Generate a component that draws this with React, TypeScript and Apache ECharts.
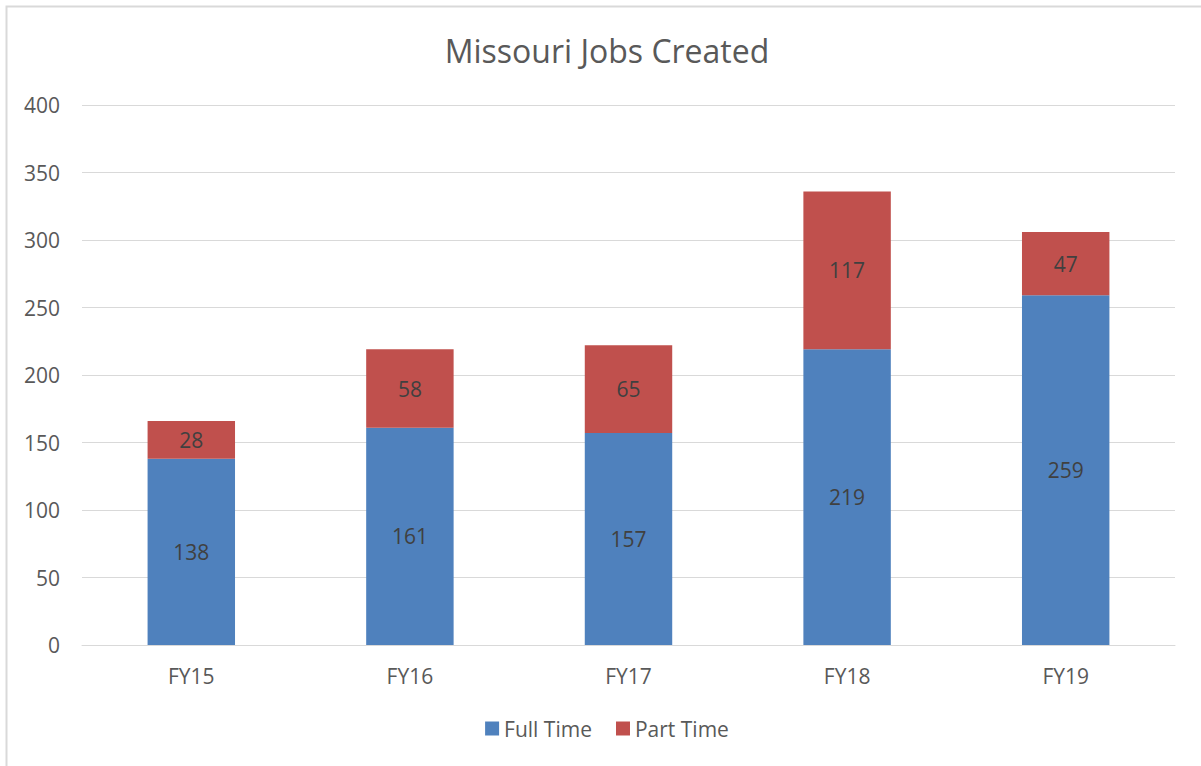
import React, { useEffect, useRef } from "react";
import * as echarts from "echarts";

const categories = ["FY15", "FY16", "FY17", "FY18", "FY19"];
const fullTime = [138, 161, 157, 219, 259];
const partTime = [28, 58, 65, 117, 47];
const yTicks = { min: 0, max: 400, interval: 50 };

const W = 1214;
const H = 766;

export default function App() {
  const ref = useRef<HTMLDivElement>(null);
  useEffect(() => {
    const chart = echarts.init(ref.current!, null, { renderer: "svg" });
    const font = "'Open Sans', 'Noto Sans', sans-serif";
    chart.setOption({
      animation: false,
      backgroundColor: "#ffffff",
      textStyle: { fontFamily: font },
      title: {
        text: "Missouri Jobs Created",
        left: "center",
        top: 29,
        textStyle: { fontSize: 32, fontWeight: "normal", color: "#595959", fontFamily: font },
      },
      graphic: [
        {
          type: "rect",
          shape: { x: 6.5, y: 6.5, width: 1300, height: 900 },
          style: { fill: "none", stroke: "#d9d9d9", lineWidth: 2 },
          silent: true,
        },
      ],
      legend: {
        bottom: 22,
        left: "center",
        itemWidth: 14,
        itemHeight: 14,
        itemGap: 24,
        icon: "rect",
        textStyle: { fontSize: 21, color: "#595959", fontFamily: font },
      },
      grid: { left: 82, right: W - 1175, top: 105, bottom: H - 645, containLabel: false },
      xAxis: {
        type: "category",
        data: categories,
        axisLine: { show: true, lineStyle: { color: "#d9d9d9", width: 1 } },
        axisTick: { show: false },
        axisLabel: { color: "#595959", fontSize: 21, margin: 20 },
      },
      yAxis: {
        type: "value",
        min: yTicks.min,
        max: yTicks.max,
        interval: yTicks.interval,
        axisLine: { show: false },
        axisTick: { show: false },
        axisLabel: { color: "#595959", fontSize: 21, margin: 22 },
        splitLine: { lineStyle: { color: "#d9d9d9", width: 1 } },
      },
      series: [
        {
          name: "Full Time",
          type: "bar",
          stack: "jobs",
          data: fullTime,
          barWidth: "40%",
          itemStyle: { color: "#4f81bd" },
          label: { show: true, position: "inside", color: "#404040", fontSize: 21 },
        },
        {
          name: "Part Time",
          type: "bar",
          stack: "jobs",
          data: partTime,
          barWidth: "40%",
          itemStyle: { color: "#c0504d" },
          label: { show: true, position: "inside", color: "#404040", fontSize: 21 },
        },
      ],
    });
    return () => chart.dispose();
  }, []);
  return (
    <div style={{ position: "fixed", left: 0, top: 0, width: 1201, height: H, overflow: "hidden" }}>
      <div ref={ref} style={{ width: W, height: H }} />
    </div>
  );
}
